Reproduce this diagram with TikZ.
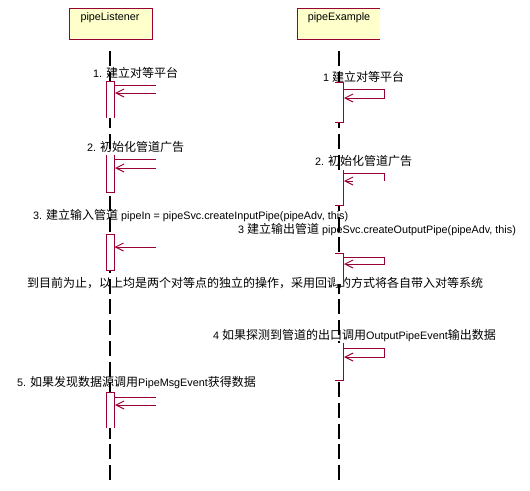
\documentclass[tikz,border=0pt]{standalone}
\usepackage{fontspec}
\setmainfont{Liberation Sans}
\newfontfamily\cjk{Noto Sans CJK SC}
\usetikzlibrary{arrows.meta}
\definecolor{rosered}{RGB}{153,0,51}
\definecolor{roseyellow}{RGB}{255,255,204}
\newcommand\zhtxt[1]{{\cjk\fontsize{12}{12}\selectfont #1}}
\begin{document}
\begin{tikzpicture}[x=1pt,y=-1pt,
  lbl/.style={anchor=west,inner sep=0pt,font=\fontsize{10.8}{12}\selectfont},
  objname/.style={inner sep=0pt,font=\fontsize{10.8}{12}\selectfont},
  lifeline/.style={black,line width=1.1pt,dash pattern=on 15pt off 5.7pt},
  actbox/.style={draw=rosered,fill=white,line width=1pt},
  msg/.style={rosered,line width=1pt},
  msgarrow/.style={rosered,line width=1pt,-{Straight Barb[length=8pt,width=8pt]}}]
\useasboundingbox (0,0) rectangle (530,490);
\fill[white] (0,0) rectangle (530,490);

% object boxes
\node[draw=rosered,fill=roseyellow,line width=1pt,minimum width=83pt,minimum height=31pt,inner sep=0pt] (pl) at (110.5,23.5) {};
\node[objname] (plname) at (110,18) {pipeListener};
\fill[roseyellow] (297,8) rectangle (380,39);
\draw[rosered,line width=1pt] (380,8) -- (297,8) -- (297,39) -- (380,39);
\node[objname] (pename) at (339,18) {pipeExample};

% lifelines
\coordinate (plTop) at (110,51);
\coordinate (plBot) at (110,480);
\coordinate (peTop) at (339,51);
\coordinate (peBot) at (339,480);
\draw[lifeline] (plTop) -- (plBot);
\draw[lifeline] (peTop) -- (peBot);

% texts
\node[lbl] (t1l) at (93,73) {1. \zhtxt{建立对等平台}};
\node[lbl] (t1r) at (323,77) {1 \zhtxt{建立对等平台}};
\node[lbl] (t2l) at (87,147) {2. \zhtxt{初始化管道广告}};
\node[lbl] (t2r) at (315,161) {2. \zhtxt{初始化管道广告}};
\node[lbl] (t3l) at (33,215.5) {3. \zhtxt{建立输入管道} pipeIn = pipeSvc.createInputPipe(pipeAdv, this)};
\node[lbl] (t3r) at (238,229.5) {3 \zhtxt{建立输出管道} pipeSvc.createOutputPipe(pipeAdv, this)};
\node[lbl] (tnote) at (27,283) {\zhtxt{到目前为止，以上均是两个对等点的独立的操作，采用回调的方式将各自带入对等系统}};
\node[lbl] (t4) at (213,336) {4 \zhtxt{如果探测到管道的出口调用}OutputPipeEvent\zhtxt{输出数据}};
\node[lbl] (t5) at (17,383) {5. \zhtxt{如果发现数据源调用}PipeMsgEvent\zhtxt{获得数据}};

% pipeListener activations
\fill[white] (106,81) rectangle (114,118);
\draw[rosered,line width=1pt] (106,118) -- (106,81) -- (114,81) -- (114,118);
\fill[white] (106,155) rectangle (114,192);
\draw[rosered,line width=1pt] (106,155) -- (106,192) -- (114,192) -- (114,155);
\node[actbox,minimum width=8pt,minimum height=36pt,inner sep=0pt] (a3l) at (110,252) {};
\fill[white] (106,392) rectangle (114,428);
\draw[rosered,line width=1pt] (106,428) -- (106,392) -- (114,392) -- (114,428);

% pipeListener messages
\coordinate (m1a) at (115,85); \coordinate (m1b) at (156,85);
\coordinate (m1c) at (156,93); \coordinate (m1d) at (115,93);
\draw[msg] (m1a) -- (m1b);
\draw[msgarrow] (m1c) -- (m1d);
\coordinate (m2a) at (115,159); \coordinate (m2b) at (156,159);
\coordinate (m2c) at (156,168); \coordinate (m2d) at (115,168);
\draw[msg] (m2a) -- (m2b);
\draw[msgarrow] (m2c) -- (m2d);
\coordinate (m3c) at (156,247);
\draw[msgarrow] (m3c) -- (a3l.east |- m3c);
\coordinate (m5a) at (115,397); \coordinate (m5b) at (156,397);
\coordinate (m5c) at (156,405); \coordinate (m5d) at (115,405);
\draw[msg] (m5a) -- (m5b);
\draw[msgarrow] (m5c) -- (m5d);

% pipeExample activations
\fill[white] (335,82) rectangle (343,122);
\draw[rosered,line width=1pt] (335,82) -- (343,82) -- (343,122) -- (335,122);
\fill[white] (335,170) rectangle (343,205);
\draw[rosered,line width=1pt] (343,170) -- (343,205) -- (335,205);
\fill[white] (335,253) rectangle (343,284);
\draw[rosered,line width=1pt] (335,253) -- (343,253) -- (343,284);
\fill[white] (335,343) rectangle (343,380);
\draw[rosered,line width=1pt] (343,343) -- (343,380) -- (335,380);

% pipeExample self messages
\draw[msgarrow] (343,89) -- (384,89) -- (384,98) -- (344,98);
\draw[msg] (343,173) -- (384,173) -- (384,181);
\draw[msgarrow] (353,181) -- (344,181);
\draw[msgarrow] (343,257) -- (384,257) -- (384,264) -- (344,264);
\draw[msgarrow] (343,348) -- (384,348) -- (384,357) -- (344,357);
\end{tikzpicture}
\end{document}
